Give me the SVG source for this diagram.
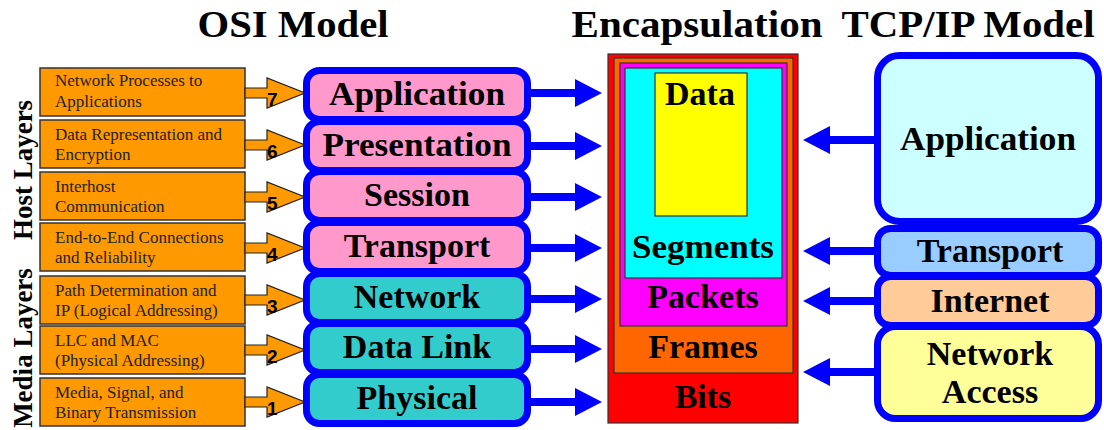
<svg xmlns="http://www.w3.org/2000/svg" width="1104" height="430" viewBox="0 0 1104 430">
<style>
.title{font-family:"Liberation Serif","Times New Roman",serif;font-weight:bold;font-size:38px;fill:#000;text-anchor:middle}
.big{font-family:"Liberation Serif","Times New Roman",serif;font-weight:bold;font-size:34px;fill:#000;text-anchor:middle}
.side{font-family:"Liberation Serif","Times New Roman",serif;font-weight:bold;font-size:27px;fill:#000;text-anchor:middle}
.desc{font-family:"Liberation Serif","Times New Roman",serif;font-size:17px;fill:#222}
.num{font-family:"Liberation Sans",Arial,sans-serif;font-weight:bold;font-size:19px;fill:#000}
.ob{fill:#ff9900;stroke:#333;stroke-width:1.5}
.oa{fill:#ff9900;stroke:#222;stroke-width:1.2}
.blu{fill:#0000ff}
.osi{stroke:#0000ff;stroke-width:7}
.pink{fill:#ff99cc}
.teal{fill:#33cccc}
.enc{stroke:#333;stroke-width:1.2}
</style>
<rect width="1104" height="430" fill="#fff"/>
<g id="titles">
<text class="title" x="293" y="37" textLength="191" lengthAdjust="spacingAndGlyphs">OSI Model</text>
<text class="title" x="697" y="37" textLength="251" lengthAdjust="spacingAndGlyphs">Encapsulation</text>
<text class="title" x="968" y="37" textLength="253" lengthAdjust="spacingAndGlyphs">TCP/IP Model</text>
</g>
<g id="side-labels">
<text class="side" transform="translate(32,170) rotate(-90)">Host Layers</text>
<text class="side" transform="translate(32,348) rotate(-90)">Media Layers</text>
</g>
<g id="descriptions">
<g id="desc7"><rect class="ob" x="40" y="68" width="205" height="48"/><text class="desc" x="55" y="86">Network Processes to</text><text class="desc" x="55" y="107">Applications</text></g>
<g id="desc6"><rect class="ob" x="40" y="120" width="205" height="48"/><text class="desc" x="55" y="140">Data Representation and</text><text class="desc" x="55" y="160">Encryption</text></g>
<g id="desc5"><rect class="ob" x="40" y="172" width="205" height="48"/><text class="desc" x="55" y="192">Interhost</text><text class="desc" x="55" y="212">Communication</text></g>
<g id="desc4"><rect class="ob" x="40" y="223" width="205" height="48"/><text class="desc" x="55" y="243">End-to-End Connections</text><text class="desc" x="55" y="263">and Reliability</text></g>
<g id="desc3"><rect class="ob" x="40" y="276" width="205" height="48"/><text class="desc" x="55" y="296">Path Determination and</text><text class="desc" x="55" y="316">IP (Logical Addressing)</text></g>
<g id="desc2"><rect class="ob" x="40" y="326" width="205" height="48"/><text class="desc" x="55" y="346">LLC and MAC</text><text class="desc" x="55" y="366">(Physical Addressing)</text></g>
<g id="desc1"><rect class="ob" x="40" y="378" width="205" height="48"/><text class="desc" x="55" y="398">Media, Signal, and</text><text class="desc" x="55" y="418">Binary Transmission</text></g>
</g>
<g id="connectors">
<path class="oa" d="M245,88 H267 V78 L305,93 L267,108 V98 H245 Z"/>
<path class="oa" d="M245,140 H267 V130 L305,145 L267,160 V150 H245 Z"/>
<path class="oa" d="M245,192 H267 V182 L305,197 L267,212 V202 H245 Z"/>
<path class="oa" d="M245,243 H267 V233 L305,248 L267,263 V253 H245 Z"/>
<path class="oa" d="M245,295 H267 V285 L305,300 L267,315 V305 H245 Z"/>
<path class="oa" d="M245,345 H267 V335 L305,350 L267,365 V355 H245 Z"/>
<path class="oa" d="M245,397 H267 V387 L305,402 L267,417 V407 H245 Z"/>
<path class="blu" d="M528,89 H575 V79 L602,93 L575,107 V97 H528 Z"/>
<path class="blu" d="M528,142 H575 V132 L602,146 L575,160 V150 H528 Z"/>
<path class="blu" d="M528,193 H575 V183 L602,197 L575,211 V201 H528 Z"/>
<path class="blu" d="M528,244 H575 V234 L602,248 L575,262 V252 H528 Z"/>
<path class="blu" d="M528,295 H575 V285 L602,299 L575,313 V303 H528 Z"/>
<path class="blu" d="M528,345 H575 V335 L602,349 L575,363 V353 H528 Z"/>
<path class="blu" d="M528,398 H575 V388 L602,402 L575,416 V406 H528 Z"/>
<path class="blu" d="M878,136 H830 V126 L803,140 L830,154 V144 H878 Z"/>
<path class="blu" d="M878,247 H830 V237 L803,251 L830,265 V255 H878 Z"/>
<path class="blu" d="M878,297 H830 V287 L803,301 L830,315 V305 H878 Z"/>
<path class="blu" d="M878,368 H830 V358 L803,372 L830,386 V376 H878 Z"/>
<text class="num" x="267" y="106">7</text>
<text class="num" x="267" y="158">6</text>
<text class="num" x="267" y="210">5</text>
<text class="num" x="267" y="261">4</text>
<text class="num" x="267" y="313">3</text>
<text class="num" x="267" y="363">2</text>
<text class="num" x="267" y="415">1</text>
</g>
<g id="osi">
<g id="osi-application"><rect class="osi pink" x="306.5" y="70.5" width="221" height="49" rx="13"/><text class="big" x="417" y="105" textLength="176" lengthAdjust="spacingAndGlyphs">Application</text></g>
<g id="osi-presentation"><rect class="osi pink" x="306.5" y="121.5" width="221" height="49" rx="13"/><text class="big" x="417" y="156" textLength="189" lengthAdjust="spacingAndGlyphs">Presentation</text></g>
<g id="osi-session"><rect class="osi pink" x="306.5" y="171.5" width="221" height="49" rx="13"/><text class="big" x="417" y="206">Session</text></g>
<g id="osi-transport"><rect class="osi pink" x="306.5" y="222.5" width="221" height="49" rx="13"/><text class="big" x="417" y="257">Transport</text></g>
<g id="osi-network"><rect class="osi teal" x="306.5" y="273.5" width="221" height="49" rx="13"/><text class="big" x="417" y="308">Network</text></g>
<g id="osi-datalink"><rect class="osi teal" x="306.5" y="323.5" width="221" height="49" rx="13"/><text class="big" x="417" y="358">Data Link</text></g>
<g id="osi-physical"><rect class="osi teal" x="306.5" y="374.5" width="221" height="49" rx="13"/><text class="big" x="417" y="409">Physical</text></g>
</g>
<g id="encapsulation">
<g id="enc-bits"><rect class="enc" x="608" y="54" width="190" height="369" fill="#ff0000"/></g>
<g id="enc-frames"><rect class="enc" x="614" y="58" width="179" height="315" fill="#ff6600"/></g>
<g id="enc-packets"><rect class="enc" x="620" y="63" width="167" height="263" fill="#ff00ff"/></g>
<g id="enc-segments"><rect class="enc" x="625" y="68" width="157" height="210" fill="#00ffff"/></g>
<g id="enc-data"><rect class="enc" x="655" y="73" width="92" height="143" fill="#ffff00"/></g>
<text class="big" x="700" y="105">Data</text>
<text class="big" x="703" y="258" textLength="142" lengthAdjust="spacingAndGlyphs">Segments</text>
<text class="big" x="703" y="308">Packets</text>
<text class="big" x="703" y="358">Frames</text>
<text class="big" x="703" y="408">Bits</text>
</g>
<g id="tcpip">
<g id="tcp-application"><rect class="osi" x="877.5" y="55.5" width="221" height="166" rx="22" fill="#ccffff"/><text class="big" x="988" y="150" textLength="176" lengthAdjust="spacingAndGlyphs">Application</text></g>
<g id="tcp-transport"><rect class="osi" x="877.5" y="228.5" width="221" height="47" rx="13" fill="#99ccff"/><text class="big" x="990" y="262">Transport</text></g>
<g id="tcp-internet"><rect class="osi" x="877.5" y="276.5" width="221" height="49" rx="13" fill="#ffcc99"/><text class="big" x="990" y="312">Internet</text></g>
<g id="tcp-network-access"><rect class="osi" x="877.5" y="326.5" width="221" height="92" rx="18" fill="#ffff99"/><text class="big" x="990" y="365">Network</text><text class="big" x="990" y="403">Access</text></g>
</g>
</svg>
